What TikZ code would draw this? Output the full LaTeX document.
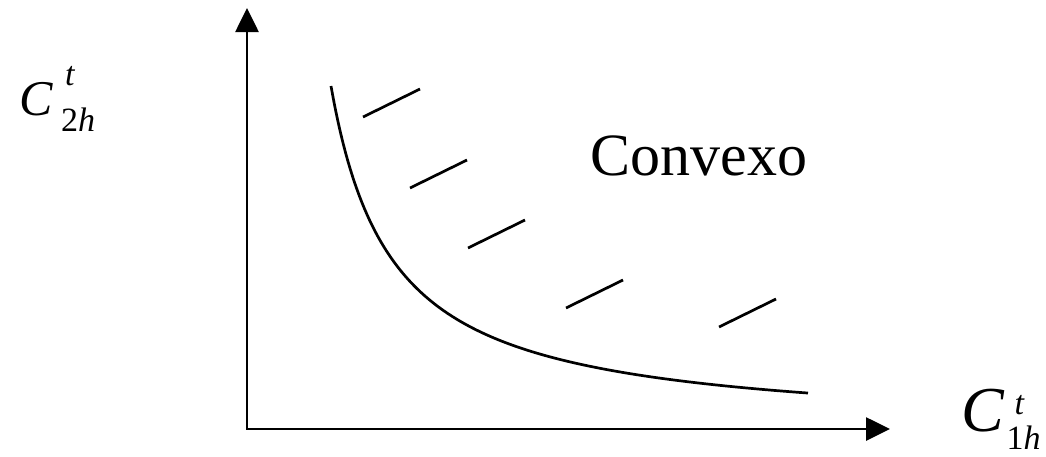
\documentclass[tikz,border=0pt]{standalone}
\usepackage{fontspec}
\setmainfont{Liberation Serif}
\newfontfamily\timesfont{Liberation Serif}
\usetikzlibrary{arrows.meta}

% C with superscript t and a subscript
\newcommand{\ctvar}[6]{{\fontsize{#1}{#1}\selectfont\textit{C}}\kern#2pt{\fontsize{34}{34}\selectfont\rlap{\kern#3pt\raisebox{#4pt}{\textit{t}}}\raisebox{-#5pt}{#6\textit{h}}}}

\begin{document}
\begin{tikzpicture}[x=1pt, y=-1pt, line width=2.7pt, font=\timesfont]
    \useasboundingbox (0,0) rectangle (1046,456);

    \coordinate (O) at (247,429);
    \coordinate (ytip) at (247,8);
    \coordinate (xtip) at (890,429);
    \draw[{Triangle[length=24pt,width=23pt]}-{Triangle[length=24pt,width=23pt]}] (ytip) -- (O) -- (xtip);

    \node[anchor=base west, inner sep=0] (c2h) at (18,115) {\ctvar{50}{8}{4}{30}{16}{2}};
    \node[anchor=base west, inner sep=0] (c1h) at (960,431) {\ctvar{64}{2}{8}{17}{18}{1}};

    \draw[domain=331:808, samples=200] plot (\x,{432.3-211.23/((\x-270)/100)});

    \foreach \hx/\hy in {363/117, 410/188, 468/248, 566/308, 719/327}
        \draw (\hx,\hy) -- ++(57,-28);

    \node[anchor=base west, inner sep=0, font=\timesfont\fontsize{60}{60}\selectfont] (conv) at (589,175) {Convexo};
\end{tikzpicture}
\end{document}
